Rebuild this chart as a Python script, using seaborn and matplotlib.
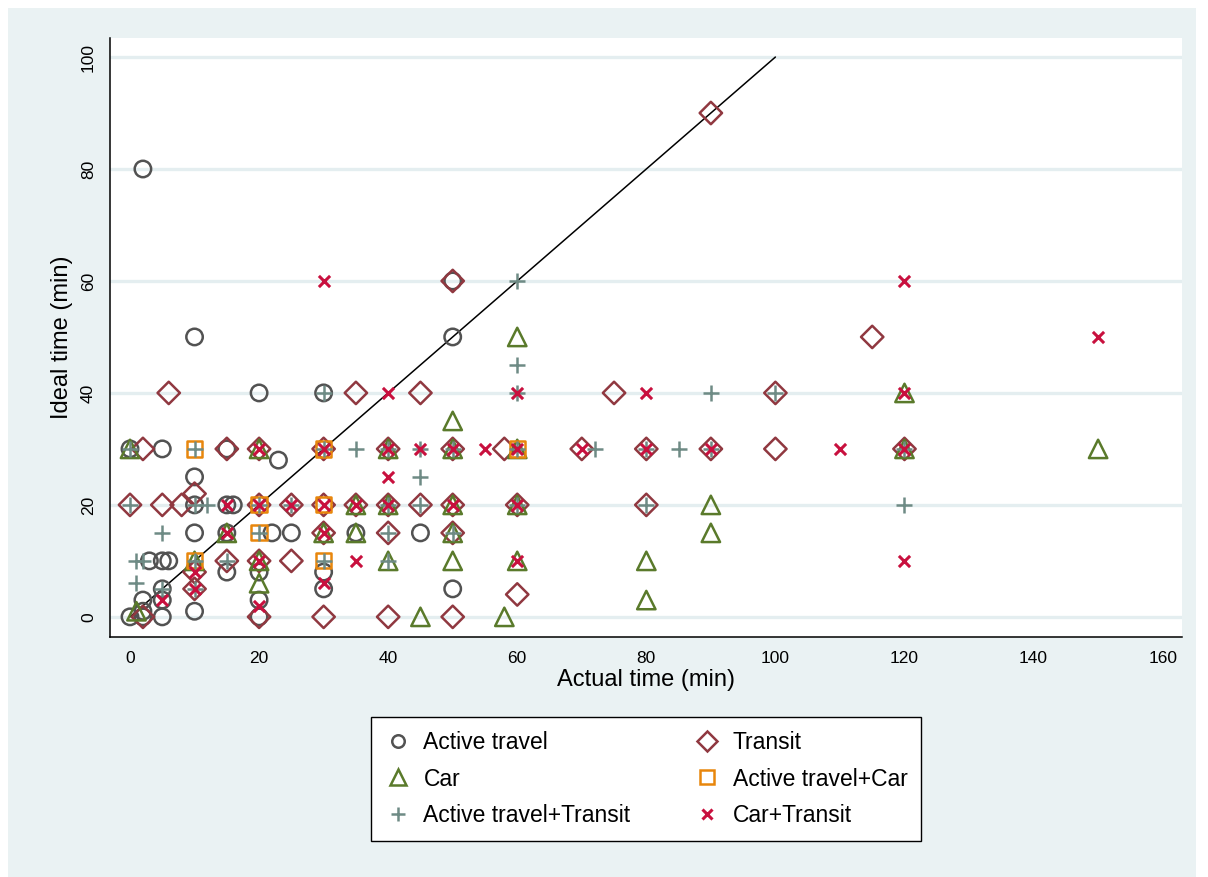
import warnings
import pandas as pd
import seaborn as sns
import matplotlib.pyplot as plt
from matplotlib.lines import Line2D
from matplotlib.patches import Rectangle

warnings.filterwarnings("ignore")

# actual vs ideal commute time (min), by mode
at_x = [2, 10, 20, 30, 50, 50, 0, 5, 15, 23, 10, 10, 15, 16, 10, 22, 25, 15, 3, 5,
        6, 15, 20, 30, 5, 2, 5, 20, 30, 0, 2, 5, 10, 20, 50, 45, 35, 2]
at_y = [80, 50, 40, 40, 60, 50, 30, 30, 30, 28, 25, 20, 20, 20, 15, 15, 15, 15, 10, 10,
        10, 8, 8, 8, 5, 3, 3, 3, 5, 0, 0, 0, 1, 0, 5, 15, 15, 1]

tr_x = [90, 50, 115, 6, 35, 45, 75, 100, 2, 15, 20, 30, 40, 50, 58, 70, 80, 90, 100, 120,
        10, 0, 5, 8, 20, 25, 30, 35, 40, 45, 50, 60, 80, 30, 40, 50, 15, 20, 25, 10,
        10, 60, 2, 20, 30, 40, 50]
tr_y = [90, 60, 50, 40, 40, 40, 40, 40, 30, 30, 30, 30, 30, 30, 30, 30, 30, 30, 30, 30,
        22, 20, 20, 20, 20, 20, 20, 20, 20, 20, 20, 20, 20, 15, 15, 15, 10, 10, 10, 8,
        5, 4, 0, 0, 0, 0, 0]

car_x = [60, 50, 120, 0, 20, 40, 50, 60, 120, 150, 35, 40, 50, 60, 90, 15, 30, 35, 50, 90,
         10, 20, 40, 50, 60, 80, 20, 80, 1, 45, 58]
car_y = [50, 35, 40, 30, 30, 30, 30, 30, 30, 30, 20, 20, 20, 20, 20, 15, 15, 15, 15, 15,
         10, 10, 10, 10, 10, 10, 6, 3, 1, 0, 0]

atc_x = [10, 30, 60, 20, 30, 20, 10, 30]
atc_y = [30, 30, 30, 20, 20, 15, 10, 10]

att_x = [60, 60, 30, 60, 90, 100, 0, 10, 30, 35, 40, 45, 50, 60, 72, 80, 85, 90, 120, 45,
         0, 10, 12, 20, 25, 40, 45, 60, 80, 120, 5, 20, 40, 50, 1, 2, 10, 15, 30, 40,
         1, 5, 10]
att_y = [60, 45, 40, 40, 40, 40, 30, 30, 30, 30, 30, 30, 30, 30, 30, 30, 30, 30, 30, 25,
         20, 20, 20, 20, 20, 20, 20, 20, 20, 20, 15, 15, 15, 15, 10, 10, 10, 10, 10, 10,
         6, 5, 5]

ct_x = [30, 120, 150, 40, 60, 80, 120, 20, 30, 40, 45, 50, 55, 60, 70, 80, 90, 110, 120, 40,
        15, 20, 25, 30, 35, 40, 50, 60, 15, 30, 20, 35, 60, 120, 10, 10, 30, 5, 20]
ct_y = [60, 60, 50, 40, 40, 40, 40, 30, 30, 30, 30, 30, 30, 30, 30, 30, 30, 30, 30, 25,
        20, 20, 20, 20, 20, 20, 20, 20, 15, 15, 10, 10, 10, 10, 8, 5, 6, 3, 2]

modes = ["Active travel", "Transit", "Car", "Active travel+Car",
         "Active travel+Transit", "Car+Transit"]
xs = [at_x, tr_x, car_x, atc_x, att_x, ct_x]
ys = [at_y, tr_y, car_y, atc_y, att_y, ct_y]

df = pd.concat([pd.DataFrame({"actual": x, "ideal": y, "mode": m})
                for x, y, m in zip(xs, ys, modes)], ignore_index=True)

styles = {
    "Active travel": dict(marker="o", s=140, color="#525252", lw=1.8, hollow=True),
    "Transit": dict(marker="D", s=130, color="#903840", lw=1.8, hollow=True),
    "Car": dict(marker="^", s=175, color="#5A7A2B", lw=1.8, hollow=True),
    "Active travel+Car": dict(marker="s", s=120, color="#E8860C", lw=1.8, hollow=True),
    "Active travel+Transit": dict(marker="+", s=135, color="#6E8B85", lw=1.8, hollow=False),
    "Car+Transit": dict(marker="x", s=65, color="#C8103E", lw=2.2, hollow=False),
}

sns.set_style("white")
plt.rcParams["font.family"] = ["Liberation Sans", "DejaVu Sans"]
plt.rcParams["text.color"] = "black"
plt.rcParams["axes.labelcolor"] = "black"

fig = plt.figure(figsize=(12.08, 8.77), dpi=100, facecolor="white")
fig.patches.append(Rectangle((8 / 1208, 0), 1188 / 1208, 869 / 877,
                             transform=fig.transFigure, facecolor="#EAF2F3",
                             edgecolor="none", zorder=-10))
ax = fig.add_axes([110 / 1208, 240 / 877, 1072 / 1208, 599 / 877])
ax.set_facecolor("white")

for y in range(0, 101, 20):
    ax.axhline(y, color="#E4EEF0", lw=2.4, zorder=0)

ax.plot([0, 100], [0, 100], color="black", lw=1.1, zorder=1)

for m in modes:
    st = styles[m]
    sub = df[df["mode"] == m]
    if st["hollow"]:
        sns.scatterplot(data=sub, x="actual", y="ideal", ax=ax, marker=st["marker"],
                        s=st["s"], color=st["color"], facecolor="none",
                        edgecolor=st["color"], linewidth=st["lw"], zorder=2)
    else:
        sns.scatterplot(data=sub, x="actual", y="ideal", ax=ax, marker=st["marker"],
                        s=st["s"], color=st["color"], linewidth=st["lw"], zorder=2)

ax.set_xlim(-3.1, 163)
ax.set_ylim(-3.6, 103.4)
ax.set_xticks(range(0, 161, 20))
ax.set_yticks(range(0, 101, 20))
ax.tick_params(axis="both", direction="out", length=6, width=1, colors="black",
               labelsize=12.5, pad=4)
for lab in ax.get_yticklabels():
    lab.set_rotation(90)
    lab.set_va("center")
for side in ["top", "right"]:
    ax.spines[side].set_visible(False)
for side in ["left", "bottom"]:
    ax.spines[side].set_color("black")
    ax.spines[side].set_linewidth(1.1)
ax.set_xlabel("Actual time (min)", fontsize=17, labelpad=2)
ax.set_ylabel("Ideal time (min)", fontsize=17, labelpad=6)

# legend: Stata fills rows, matplotlib fills columns
order = ["Active travel", "Car", "Active travel+Transit",
         "Transit", "Active travel+Car", "Car+Transit"]
handles = []
for m in order:
    st = styles[m]
    msize = {"o": 9, "D": 10, "^": 11, "s": 10, "+": 10, "x": 7}[st["marker"]]
    if st["hollow"]:
        h = Line2D([], [], linestyle="none", marker=st["marker"], markersize=msize,
                   markerfacecolor="none", markeredgecolor=st["color"],
                   markeredgewidth=st["lw"])
    else:
        h = Line2D([], [], linestyle="none", marker=st["marker"], markersize=msize,
                   color=st["color"], markeredgewidth=st["lw"])
    handles.append(h)

leg = fig.legend(handles, order, loc="upper center", ncol=2,
                 bbox_to_anchor=(646 / 1208, 160 / 877), fontsize=16.5,
                 frameon=True, fancybox=False, edgecolor="black", framealpha=1,
                 handlelength=1.2, handletextpad=0.5, columnspacing=2.75,
                 labelspacing=0.6, borderpad=0.6, borderaxespad=0)
leg.get_frame().set_linewidth(1.0)

fig.savefig("out.png", dpi=100, facecolor=fig.get_facecolor())
